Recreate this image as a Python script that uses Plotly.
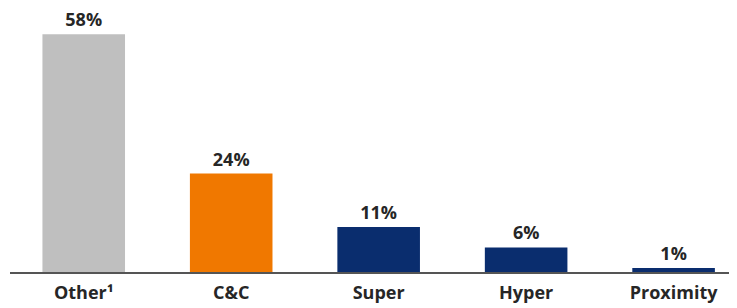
import plotly.graph_objects as go

categories = ["Other¹", "C&C", "Super", "Hyper", "Proximity"]
values = [58, 24, 11, 6, 1]
labels = ["58%", "24%", "11%", "6%", "1%"]
colors = ["#BFBFBF", "#F07800", "#0A2D6E", "#0A2D6E", "#0A2D6E"]

fig = go.Figure(go.Bar(
    x=categories, y=values, text=labels, textposition="outside",
    marker=dict(color=colors, line=dict(width=0)),
    textfont=dict(family="Open Sans", size=18, color="#262626", weight="bold"),
    cliponaxis=False, width=0.56,
))
fig.update_layout(
    width=729, height=300,
    margin=dict(l=2, r=0, t=0, b=36),
    paper_bgcolor="white", plot_bgcolor="white",
    showlegend=False,
    xaxis=dict(range=[-0.5, 4.43], showline=True, linecolor="#555555", linewidth=2,
               ticks="outside", ticklen=3, tickcolor="rgba(0,0,0,0)",
               tickfont=dict(family="Open Sans", size=18, color="#262626", weight="bold"),
               showgrid=False, zeroline=False, automargin=False),
    yaxis=dict(range=[0, 64.4], visible=False, showgrid=False, zeroline=False),
)
fig.write_html("out.html")
